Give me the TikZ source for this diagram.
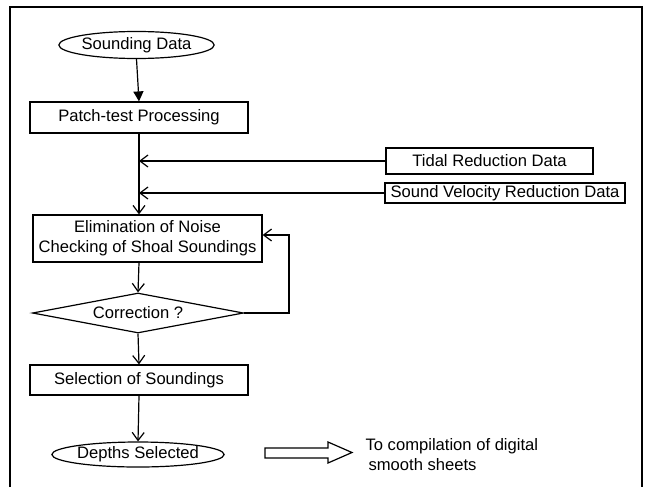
\documentclass[tikz,border=0pt]{standalone}
\usepackage{fontspec}
\setmainfont{Liberation Sans}
\usetikzlibrary{shapes.geometric, arrows.meta}

\tikzset{
  procbox/.style={draw, rectangle, inner sep=0pt, align=center},
  termnode/.style={draw, ellipse, inner sep=0pt},
  flow/.style={-{Straight Barb[length=4pt, width=6pt]}},
}

\begin{document}
\begin{tikzpicture}[x=0.5pt, y=-0.5pt, line width=0.6pt,
    font=\fontsize{8.3}{10}\selectfont]
			% Page size and frame
			\useasboundingbox (0,0) rectangle (646,487);
			\draw (10,487) -- (10,7) -- (642,7) -- (642,487);
			
			% Main column
			\node[termnode, minimum width=75.5pt, minimum height=13.5pt] (src) at (136.5,45) {Sounding Data};
			\node[procbox, minimum width=109pt, minimum height=15.5pt] (patch) at (139,117.5) {Patch-test Processing};
			\node[procbox, minimum width=114.5pt, minimum height=23.5pt] (elim) at (147.5,238.5) {Elimination of Noise\\Checking of Shoal Soundings};
			\node[draw, diamond, aspect=5, inner sep=0pt, minimum width=105.5pt, minimum height=20pt] (corr) at (138,313) {Correction ?};
			\node[procbox, minimum width=109pt, minimum height=15pt] (sel) at (139,380) {Selection of Soundings};
			\node[termnode, minimum width=75pt, minimum height=12.5pt] (depth) at (138,454.5) {Depths Selected};
			
			% Reduction data
			\node[procbox, minimum width=103.5pt, minimum height=13pt] (tidal) at (489.5,161) {Tidal Reduction Data};
			\node[procbox, minimum width=120pt, minimum height=10pt] (velo) at (505,193) {Sound Velocity Reduction Data};
			
			% Output note
			\node[anchor=north west, align=left, inner sep=0pt] (note) at (365,438) {To compilation of digital\\\hspace*{1.5pt}smooth sheets};
			\draw (265,448) -- (328,448) -- (328,442) -- (352,452.5) -- (328,463) -- (328,458) -- (265,458) -- cycle;
			
			% Connectors
			\draw[-{Triangle[length=5pt, width=5pt]}] (src.south) -- (patch.north);
			\draw[flow] (patch.south) -- (patch.south |- elim.north);
			\draw[flow] (tidal.west) -- (tidal.west -| patch.south);
			\draw[flow] (velo.west) -- (velo.west -| patch.south);
			\draw[flow] (patch.south |- elim.south) -- (corr.north);
			\coordinate (loop) at (289,235);
			\draw[flow] (corr.east) -| (loop) -- (loop -| elim.east);
			\draw[flow] (corr.south) -- (sel.north);
			\draw[flow] (sel.south) -- (depth.north);
			
		\end{tikzpicture}
\end{document}
